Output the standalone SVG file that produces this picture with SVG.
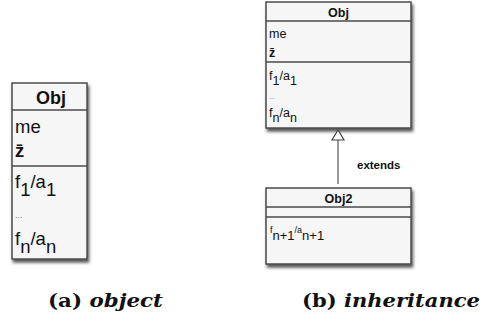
<svg xmlns="http://www.w3.org/2000/svg" width="483" height="327" viewBox="0 0 483 327">
<style>
.box{fill:#f6f6f6;stroke:#4a4a4a;stroke-width:1.5}
.sep{stroke:#4a4a4a;stroke-width:1.5}
.t{font-family:"Liberation Sans",Arial,sans-serif;fill:#111}
.b{font-weight:bold}
.dots{font-family:"Liberation Sans",Arial,sans-serif;fill:#777}
.cap{font-family:"DejaVu Serif","Liberation Serif",serif;font-weight:bold;font-size:19px;fill:#111}
.it{font-style:italic}
</style>
<defs>
<filter id="sh" x="-10%" y="-10%" width="130%" height="130%">
<feDropShadow dx="1.5" dy="3" stdDeviation="1.8" flood-color="#000" flood-opacity="0.65"/>
</filter>
</defs>
<g id="obj-a">
<rect class="box" x="12" y="83" width="75" height="176" filter="url(#sh)"/>
<line class="sep" x1="12" y1="110" x2="87" y2="110"/>
<line class="sep" x1="12" y1="166" x2="87" y2="166"/>
<text class="t b" x="51" y="104" font-size="18" text-anchor="middle">Obj</text>
<text class="t" x="15" y="133" font-size="18.5">me</text>
<text class="t b" x="15" y="157" font-size="18.5">z̄</text>
<text class="t" x="15" y="188" font-size="18.5">f<tspan dy="8">1</tspan><tspan dy="-8">/a</tspan><tspan dy="8">1</tspan></text>
<text class="dots" x="15" y="218" font-size="9">...</text>
<text class="t" x="15" y="245" font-size="18.5">f<tspan dy="8">n</tspan><tspan dy="-8">/a</tspan><tspan dy="8">n</tspan></text>
</g>
<g id="obj-b">
<rect class="box" x="266" y="2" width="145" height="126" filter="url(#sh)"/>
<line class="sep" x1="266" y1="21" x2="411" y2="21"/>
<line class="sep" x1="266" y1="62" x2="411" y2="62"/>
<text class="t b" x="338.5" y="17" font-size="12.5" text-anchor="middle">Obj</text>
<text class="t" x="269" y="38" font-size="12.5">me</text>
<text class="t b" x="269" y="57" font-size="12.5">z̄</text>
<text class="t" x="269" y="80" font-size="12.5">f<tspan dy="5">1</tspan><tspan dy="-5">/a</tspan><tspan dy="5">1</tspan></text>
<text class="dots" x="269" y="99" font-size="7">...</text>
<text class="t" x="269" y="117" font-size="12.5">f<tspan dy="5">n</tspan><tspan dy="-5">/a</tspan><tspan dy="5">n</tspan></text>
</g>
<g id="obj2">
<rect class="box" x="266" y="188" width="145" height="76" filter="url(#sh)"/>
<line class="sep" x1="266" y1="207" x2="411" y2="207"/>
<line class="sep" x1="266" y1="217" x2="411" y2="217"/>
<text class="t b" x="338.5" y="203" font-size="12.5" text-anchor="middle">Obj2</text>
<text class="t" x="270" y="233" font-size="9">f<tspan dy="7" font-size="13">n+1</tspan><tspan dy="-7">/a</tspan><tspan dy="7" font-size="13">n+1</tspan></text>
</g>
<g id="connectors">
<line x1="338" y1="140" x2="338" y2="184" stroke="#555" stroke-width="1.2"/>
<polygon points="338,130 332,140 344,140" fill="#fff" stroke="#444" stroke-width="1.2"/>
<text class="t b" x="357" y="169" font-size="11.5">extends</text>
</g>
<g id="captions">
<text class="cap" x="48" y="307" textLength="115" lengthAdjust="spacingAndGlyphs">(a) <tspan class="it">object</tspan></text>
<text class="cap" x="302" y="307" textLength="178" lengthAdjust="spacingAndGlyphs">(b) <tspan class="it">inheritance</tspan></text>
</g>
</svg>
